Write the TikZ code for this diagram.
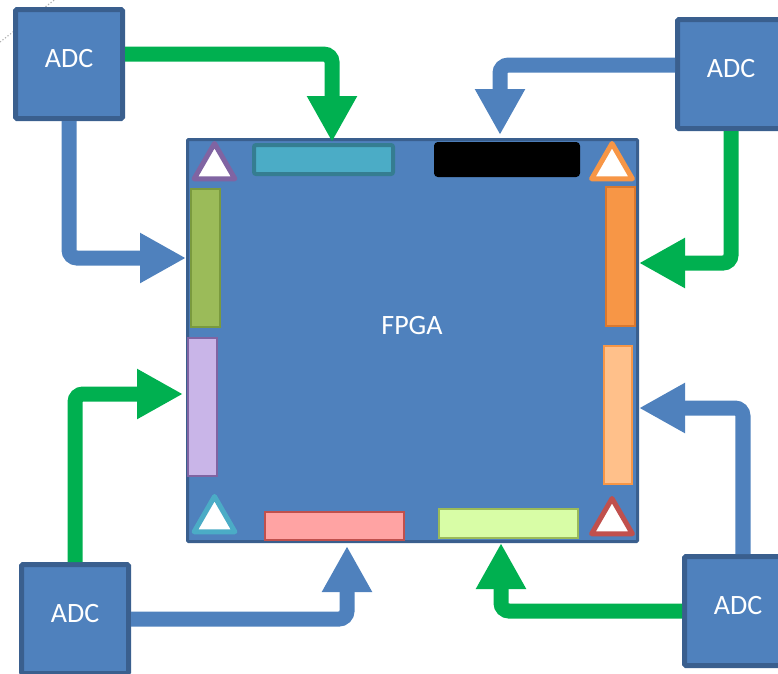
\documentclass[tikz,border=0pt]{standalone}
\usepackage{fontspec}
\setmainfont{Carlito}
\usetikzlibrary{arrows.meta, shapes.geometric}
\definecolor{chipblue}{HTML}{4F81BD}
\definecolor{chipedge}{HTML}{3A5F8E}
\definecolor{linkgreen}{HTML}{00B050}
\definecolor{tealfill}{HTML}{4BACC6}
\definecolor{tealedge}{HTML}{357D91}
\definecolor{olivefill}{HTML}{9BBB59}
\definecolor{oliveedge}{HTML}{7A9A3E}
\definecolor{lilacfill}{HTML}{C9B5E8}
\definecolor{lilacedge}{HTML}{8064A2}
\definecolor{orangefill}{HTML}{F79646}
\definecolor{orangeedge}{HTML}{D9782F}
\definecolor{peachfill}{HTML}{FFC08A}
\definecolor{pinkfill}{HTML}{FFA3A3}
\definecolor{rededge}{HTML}{C0504D}
\definecolor{limefill}{HTML}{D8FDA6}

\begin{document}
\begin{tikzpicture}[x=1pt,y=-1pt,
    adc/.style={rectangle,fill=chipblue,draw=chipedge,line width=5pt,minimum width=107pt,
      minimum height=109pt,inner sep=0pt,rounded corners=1.5pt,text=white,
      text height=18pt,text depth=12pt,font=\fontsize{28}{30}\selectfont},
    chip/.style={rectangle,fill=chipblue,draw=chipedge,line width=3pt,inner sep=0pt,rounded corners=1pt},
    link/.style={line width=15pt,rounded corners=8pt,-{Triangle[width=47pt,length=46pt]}},
    bar/.style={rectangle,line width=2pt,inner sep=0pt},
    warn/.style={regular polygon,regular polygon sides=3,minimum size=47pt,inner sep=0pt,
      fill=white,line width=5pt,line join=round}]
    \useasboundingbox (0,0) rectangle (778,673);
    \draw[gray!60,dotted,line width=1.2pt] (0,42) -- (62,-6);

    % FPGA with its banks
    \node[chip,minimum width=450pt,minimum height=402pt] (fpga) at (412.5,340.5) {};
    \node[text=white,font=\fontsize{28}{30}\selectfont] (fpgatxt) at (412,326) {FPGA};
    \node[bar,fill=tealfill,draw=tealedge,line width=4pt,rounded corners=2pt,minimum width=139pt,minimum height=29pt] (bankT1) at (323.5,159.5) {};
    \node[bar,fill=black,draw=black,rounded corners=3pt,minimum width=144pt,minimum height=33pt] (bankT2) at (507,159.5) {};
    \node[bar,fill=olivefill,draw=oliveedge,minimum width=29pt,minimum height=138pt] (bankL1) at (205.5,258) {};
    \node[bar,fill=lilacfill,draw=lilacedge,minimum width=29pt,minimum height=138pt] (bankL2) at (202.5,407) {};
    \node[bar,fill=orangefill,draw=orangeedge,minimum width=29pt,minimum height=139pt] (bankR1) at (620.5,256.5) {};
    \node[bar,fill=peachfill,draw=orangefill,minimum width=28pt,minimum height=138pt] (bankR2) at (618,415) {};
    \node[bar,fill=pinkfill,draw=rededge,minimum width=139pt,minimum height=28pt] (bankB1) at (334.5,526) {};
    \node[bar,fill=limefill,draw=olivefill,minimum width=139pt,minimum height=29pt] (bankB2) at (508.5,523.5) {};
    \node[warn,draw=lilacedge] (triTL) at (214.5,167) {};
    \node[warn,draw=orangefill] (triTR) at (612,167) {};
    \node[warn,draw=tealfill] (triBL) at (214.5,520) {};
    \node[warn,draw=rededge] (triBR) at (612,522) {};

    % converters
    \node[adc] (adcTL) at (69,64) {ADC};
    \node[adc] (adcTR) at (731,74) {ADC};
    \node[adc] (adcBL) at (75,619) {ADC};
    \node[adc] (adcBR) at (738,611) {ADC};

    % arrow ends on the FPGA
    \coordinate (inT1) at (332,142);
    \coordinate (inT2) at (500,135);
    \coordinate (inL1) at (186,258);
    \coordinate (inL2) at (183,394);
    \coordinate (inR1) at (639,263);
    \coordinate (inR2) at (639,408);
    \coordinate (inB1) at (347,546);
    \coordinate (inB2) at (501,543);

    \draw[link,linkgreen] (adcTL.10) -| (inT1);
    \draw[link,chipblue] (adcTL.south) |- (inL1);
    \draw[link,chipblue] (adcTR.171) -| (inT2);
    \draw[link,linkgreen] (adcTR.south) |- (inR1);
    \draw[link,chipblue] (adcBR.85) |- (inR2);
    \draw[link,linkgreen] (adcBR.west) -| (inB2);
    \draw[link,chipblue] (adcBL.east) -| (inB1);
    \draw[link,linkgreen] (adcBL.north) |- (inL2);
\end{tikzpicture}
\end{document}
